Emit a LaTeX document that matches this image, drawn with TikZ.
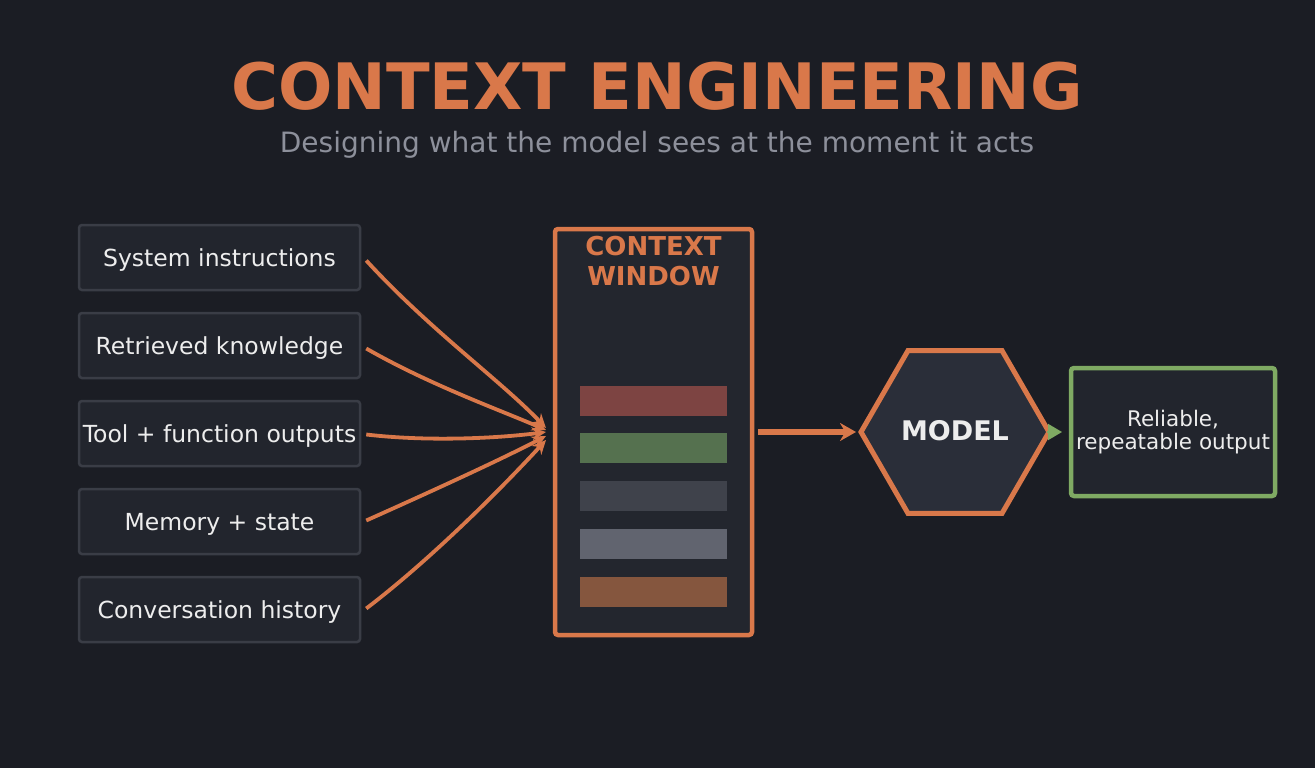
\documentclass[tikz,border=0pt]{standalone}
\usepackage{fontspec}
\setmainfont{DejaVu Sans}
\usetikzlibrary{arrows.meta,shapes.geometric}
\definecolor{bg}{HTML}{1B1D24}
\definecolor{boxf}{HTML}{22252D}
\definecolor{boxd}{HTML}{3A3D46}
\definecolor{org}{HTML}{D9784A}
\definecolor{grn}{HTML}{7FAA63}
\definecolor{sub}{HTML}{8D909B}
\definecolor{txt}{HTML}{EDEDED}
\definecolor{c1}{HTML}{7D4442}
\definecolor{c2}{HTML}{55714F}
\definecolor{c3}{HTML}{3F424B}
\definecolor{c4}{HTML}{61646F}
\definecolor{c5}{HTML}{85563E}
\definecolor{hexf}{HTML}{2A2E39}
\definecolor{cwf}{HTML}{23262E}
\begin{document}
\begin{tikzpicture}[x=1pt,y=-1pt,
  src/.style={draw=boxd,fill=boxf,line width=2.5pt,rounded corners=3pt,minimum width=281pt,minimum height=65pt,text=txt,text depth=0pt,font=\fontsize{23.5}{28}\selectfont},
  feed/.style={draw=org,line width=3.8pt},
  bar/.style={minimum width=147pt,minimum height=30pt,inner sep=0pt}]
\fill[bg] (0,0) rectangle (1315,768);
\node[text=org,font=\fontsize{64}{70}\selectfont\bfseries] (title) at (657,86) {CONTEXT ENGINEERING};
\node[text=sub,font=\fontsize{28}{32}\selectfont] (subt) at (657,145) {Designing what the model sees at the moment it acts};
\node[src] (s1) at (219.5,257.5) {System instructions};
\node[src] (s2) at (219.5,345.5) {Retrieved knowledge};
\node[src] (s3) at (219.5,433.5) {Tool + function outputs};
\node[src] (s4) at (219.5,521.5) {Memory + state};
\node[src] (s5) at (219.5,609.5) {Conversation history};
\node[draw=org,fill=cwf,line width=4.5pt,rounded corners=3pt,minimum width=197pt,minimum height=406pt] (cw) at (653.5,432) {};
\node[text=org,font=\fontsize{26}{30}\selectfont\bfseries,align=center] (cwl) at (653.5,261) {CONTEXT\\WINDOW};
\node[bar,fill=c1] (b1) at (653.5,401) {};
\node[bar,fill=c2] (b2) at (653.5,448) {};
\node[bar,fill=c3] (b3) at (653.5,496) {};
\node[bar,fill=c4] (b4) at (653.5,544) {};
\node[bar,fill=c5] (b5) at (653.5,592) {};
\draw[feed,-{Stealth[length=14pt,width=13pt]}] (s1.east)++(5,3) .. controls (430,330) and (500,380) .. (546,428);
\draw[feed,-{Stealth[length=14pt,width=13pt]}] (s2.east)++(5,3) .. controls (430,385) and (500,410) .. (546,430);
\draw[feed,-{Stealth[length=14pt,width=13pt]}] (s3.east)++(5,1) .. controls (430,442) and (500,438) .. (546,432);
\draw[feed,-{Stealth[length=14pt,width=13pt]}] (s4.east)++(5,-1) .. controls (430,492) and (500,460) .. (546,436);
\draw[feed,-{Stealth[length=14pt,width=13pt]}] (s5.east)++(5,-1) .. controls (430,560) and (500,490) .. (546,440);
\node[regular polygon,regular polygon sides=6,draw=org,fill=hexf,line width=5pt,minimum size=188pt,inner sep=0pt] (m) at (955,432) {};
\node[text=txt,font=\fontsize{27}{30}\selectfont\bfseries] (ml) at (955,431) {MODEL};
\draw[org,line width=5.5pt,-{Stealth[length=16pt,width=18pt]}] (758,432) -- (856,432);
\node[draw=grn,fill=boxf,line width=4.5pt,rounded corners=3pt,minimum width=204pt,minimum height=128pt,text=txt,align=center,font=\fontsize{21.5}{23}\selectfont] (out) at (1173,432) {Reliable,\\repeatable output};
\draw[grn,line width=2pt,-{Triangle[length=14pt,width=16pt]}] (1047,432) -- (1062,432);
\end{tikzpicture}
\end{document}
